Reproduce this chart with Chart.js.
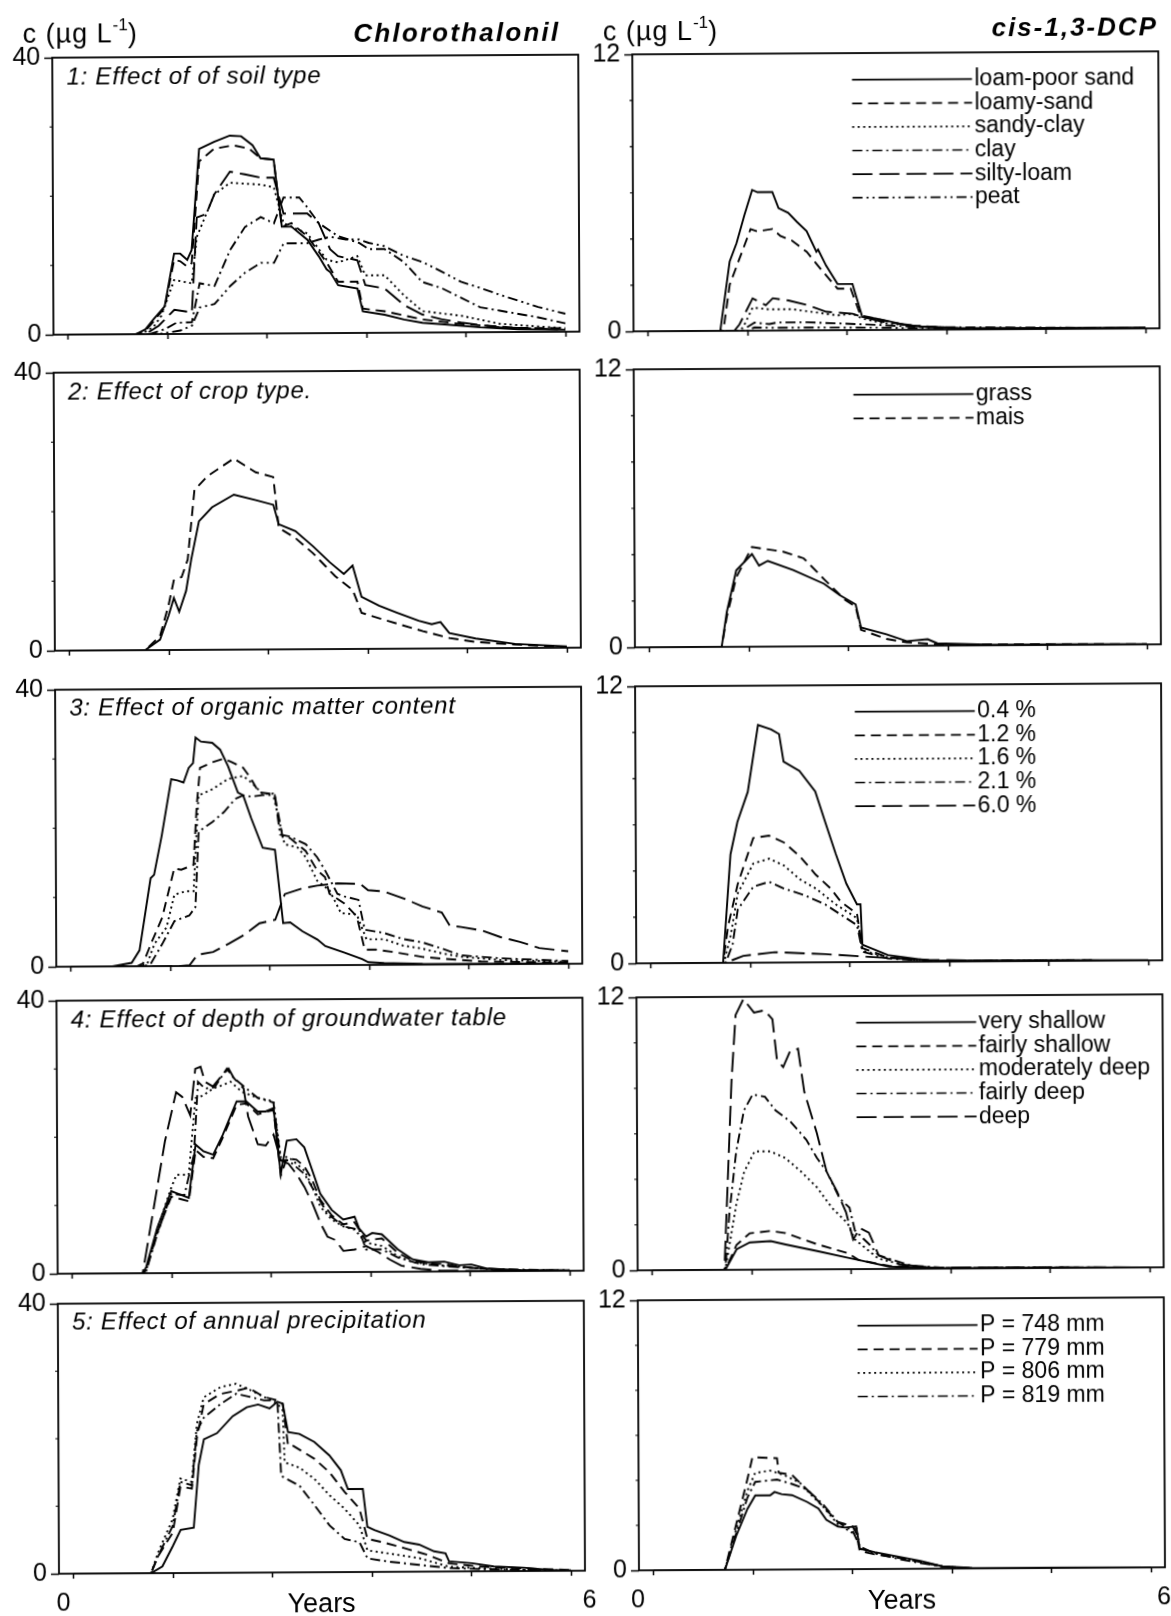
<!DOCTYPE html>
<html><head><meta charset="utf-8">
<script src="https://cdn.jsdelivr.net/npm/chart.js@4.4.1/dist/chart.umd.min.js"></script>
<style>
html,body{margin:0;padding:0;background:#fff;overflow:hidden;}
body{width:1171px;height:1616px;position:relative;}
#page{position:absolute;left:0;top:0;width:1171px;height:1616px;transform-origin:0 0;transform:matrix(1,-0.0058,0.0044,1,0,0);}
canvas{position:absolute;}
.txt{position:absolute;white-space:nowrap;line-height:1;color:#000;font-family:"Liberation Sans",Arial,Helvetica,sans-serif;}
</style></head><body><div id="page"></div>
<script>
// ---------- axes / categories ----------
const xTickYears = [0.171, 1.305, 2.439, 3.573, 4.707, 5.841];
const xAxisEnds = [0, 6];
const leftYMax = 40, rightYMax = 12;
const leftMinorTicks = [10, 20, 30];
const rightMinorTicks = [2, 4, 6, 8, 10];

const soilTypes = ['loam-poor sand','loamy-sand','sandy-clay','clay','silty-loam','peat'];
const cropTypes = ['grass','mais'];
const omContents = ['0.4 %','1.2 %','1.6 %','2.1 %','6.0 %'];
const gwDepths = ['very shallow','fairly shallow','moderately deep','fairly deep','deep'];
const precipitations = ['P = 748 mm','P = 779 mm','P = 806 mm','P = 819 mm'];

// ---------- 1: soil type, Chlorothalonil [year, ug/L] ----------
const c1_loamPoorSand = [[0.17,0],[0.94,0],[1.05,0.7],[1.14,2.1],[1.27,4.0],[1.38,11.6],[1.45,11.6],[1.53,10.7],[1.58,12.1],[1.67,26.7],[1.84,27.7],[2.02,28.6],[2.15,28.5],[2.28,27.2],[2.37,25.3],[2.52,25.1],[2.61,15.4],[2.72,15.4],[2.90,13.5],[3.03,11.1],[3.12,9.2],[3.16,8.8],[3.25,6.9],[3.47,6.4],[3.53,3.1],[3.78,2.6],[4.0,1.9],[4.21,1.4],[4.43,1.2],[4.87,0.7],[5.3,0.4],[5.84,0.3]];
const c1_loamySand = [[0.17,0],[0.94,0],[1.05,0.5],[1.14,1.8],[1.27,3.8],[1.38,10.7],[1.45,10.5],[1.53,9.7],[1.58,10.2],[1.67,24.9],[1.84,26.7],[2.06,27.2],[2.24,26.7],[2.37,25.3],[2.52,25.1],[2.61,15.4],[2.72,15.9],[2.90,14.0],[3.12,10.2],[3.25,7.4],[3.47,7.4],[3.53,3.5],[3.78,3.1],[4.21,1.9],[4.65,1.2],[5.3,0.6],[5.84,0.5]];
const c1_sandyClay = [[0.17,0],[1.0,0],[1.14,1.0],[1.23,2.6],[1.38,7.8],[1.58,7.3],[1.64,14.0],[1.84,20.1],[2.02,21.8],[2.37,21.5],[2.52,21.1],[2.63,15.9],[2.90,14.4],[3.12,10.6],[3.25,10.2],[3.47,11.1],[3.56,8.3],[3.78,8.3],[4.0,5.4],[4.21,3.1],[4.65,2.4],[5.09,1.2],[5.84,0.5]];
const c1_clay = [[0.17,0],[1.1,0],[1.27,0.7],[1.40,1.6],[1.58,1.7],[1.67,7.3],[1.84,6.9],[2.02,12.1],[2.19,15.4],[2.37,16.8],[2.52,15.9],[2.63,19.6],[2.81,19.6],[2.90,18.2],[3.03,15.9],[3.25,14.0],[3.49,13.0],[3.60,12.1],[3.78,12.1],[4.0,10.2],[4.21,7.3],[4.43,6.4],[4.65,5.0],[4.87,3.6],[5.09,3.1],[5.53,2.1],[5.84,1.2]];
const c1_siltyLoam = [[0.17,0],[1.05,0],[1.20,1.2],[1.38,3.5],[1.58,3.1],[1.64,16.8],[1.75,17.3],[1.84,20.1],[2.02,23.4],[2.19,23.0],[2.37,22.5],[2.52,22.5],[2.63,17.3],[2.90,17.3],[3.03,15.9],[3.16,12.1],[3.25,11.1],[3.47,10.5],[3.56,6.9],[3.78,6.4],[4.0,4.0],[4.21,2.6],[4.43,1.9],[4.65,1.4],[5.09,0.7],[5.84,0.3]];
const c1_peat = [[0.17,0],[1.2,0],[1.45,0.5],[1.58,1.2],[1.67,3.8],[1.84,4.3],[2.02,6.9],[2.19,8.8],[2.37,10.2],[2.52,10.2],[2.63,13.0],[2.90,13.0],[3.03,13.5],[3.16,13.9],[3.34,13.5],[3.49,13.5],[3.60,13.0],[3.78,12.5],[4.0,11.1],[4.21,10.2],[4.43,8.8],[4.65,7.3],[4.87,6.4],[5.09,5.4],[5.31,4.5],[5.53,3.6],[5.84,2.6]];

// ---------- 1: soil type, cis-1,3-DCP ----------
const d1_loamPoorSand = [[0.17,0],[0.99,0],[1.10,3.0],[1.18,3.8],[1.27,5.0],[1.36,6.1],[1.42,6.0],[1.59,6.0],[1.66,5.3],[1.77,5.1],[1.87,4.7],[1.98,4.3],[2.09,3.4],[2.11,3.5],[2.20,2.8],[2.33,2.0],[2.50,2.0],[2.61,0.57],[2.76,0.5],[2.93,0.36],[3.10,0.21],[3.28,0.14],[3.71,0.07],[5.0,0.03],[5.84,0.02]];
const d1_loamySand = [[0.17,0],[0.99,0],[1.03,0.14],[1.10,2.0],[1.21,3.1],[1.34,4.4],[1.42,4.3],[1.59,4.4],[1.68,4.1],[1.81,3.9],[1.98,3.4],[2.15,2.6],[2.33,1.8],[2.48,1.8],[2.59,0.64],[2.84,0.43],[3.1,0.2],[3.7,0.05],[5.84,0.02]];
const d1_sandyClay = [[0.17,0],[1.2,0],[1.25,0.14],[1.36,1.0],[1.55,0.92],[1.81,0.92],[2.07,0.78],[2.33,0.64],[2.50,0.71],[2.61,0.5],[2.84,0.3],[3.28,0.14],[3.7,0.05],[5.84,0.02]];
const d1_clay = [[0.17,0],[1.25,0],[1.29,0.14],[1.38,0.35],[1.55,0.28],[1.64,0.35],[1.98,0.35],[2.41,0.28],[2.84,0.21],[3.28,0.11],[5.84,0.02]];
const d1_siltyLoam = [[0.17,0],[1.15,0],[1.21,0.28],[1.36,1.4],[1.51,1.1],[1.59,1.4],[1.77,1.3],[1.98,1.1],[2.20,0.8],[2.50,0.71],[2.61,0.57],[2.84,0.36],[3.28,0.14],[3.7,0.05],[5.84,0.02]];
const d1_peat = [[0.17,0],[1.3,0],[1.38,0.14],[1.6,0.12],[2.0,0.12],[2.84,0.1],[3.5,0.05],[5.84,0.02]];

// ---------- 2: crop type ----------
const c2_grass = [[0.17,0],[1.03,0],[1.2,1.5],[1.3,5],[1.36,7.5],[1.42,5.5],[1.5,8.5],[1.56,13],[1.65,18.5],[1.8,20.5],[2.05,22.3],[2.3,21.5],[2.5,20.8],[2.56,18],[2.75,17],[2.95,14.8],[3.14,12.5],[3.3,10.8],[3.4,12],[3.5,7.5],[3.7,6.2],[3.9,5.2],[4.15,4],[4.3,3.5],[4.4,3.8],[4.5,2.2],[4.8,1.4],[5.25,0.6],[5.84,0.2]];
const c2_mais = [[0.17,0],[1.03,0],[1.2,2],[1.3,6.5],[1.36,10],[1.45,10.5],[1.52,13],[1.6,23],[1.75,25],[2.05,27.5],[2.3,25.5],[2.5,24.8],[2.56,17.5],[2.75,16],[2.95,13.8],[3.2,10.5],[3.4,8.5],[3.5,5.2],[3.8,4],[4.2,2.5],[4.5,1.5],[4.8,0.9],[5.25,0.5],[5.84,0.1]];
const d2_grass = [[0.17,0],[0.99,0],[1.05,1.5],[1.16,3.3],[1.34,4.0],[1.42,3.5],[1.52,3.7],[1.81,3.3],[2.16,2.7],[2.34,2.2],[2.52,1.8],[2.58,0.8],[2.87,0.5],[3.1,0.2],[3.34,0.28],[3.45,0.1],[4.0,0.03],[5.84,0.01]];
const d2_mais = [[0.17,0],[0.99,0],[1.05,1.3],[1.16,3.0],[1.34,4.3],[1.69,4.1],[1.93,3.8],[2.16,2.9],[2.40,2.0],[2.52,1.7],[2.58,0.7],[2.87,0.3],[3.1,0.15],[3.5,0.05],[5.84,0.01]];

// ---------- 3: organic matter content ----------
const c3_om04 = [[0.17,0],[0.64,0],[0.86,0.5],[0.95,2.3],[1.08,12.7],[1.12,13.2],[1.21,18.9],[1.32,27],[1.39,26.8],[1.46,26.5],[1.52,28.6],[1.57,29.3],[1.60,33],[1.66,32.4],[1.79,32.2],[1.88,31.2],[1.97,28.8],[2.08,25],[2.14,24.6],[2.23,21.3],[2.36,17],[2.50,16.7],[2.59,6.1],[2.67,6.2],[2.81,4.9],[2.98,3.7],[3.07,2.75],[3.29,1.8],[3.49,0.85],[3.56,0.4],[3.74,0.25],[4.18,0.1],[5.84,0.05]];
const c3_om12 = [[0.17,0],[0.92,0],[0.99,0.4],[1.08,3.2],[1.21,7],[1.35,14.1],[1.43,13.9],[1.57,14.6],[1.61,23.2],[1.65,28.6],[1.79,29.4],[1.92,29.9],[2.01,29.4],[2.14,28.6],[2.23,27],[2.32,25],[2.45,24.8],[2.50,24.6],[2.59,18.4],[2.67,18.4],[2.85,16.5],[2.98,13.7],[3.07,12.7],[3.12,10.3],[3.29,8.9],[3.43,7],[3.52,2.2],[3.65,2.2],[3.87,1.8],[4.18,1.1],[4.40,0.85],[4.85,0.4],[5.84,0.15]];
const c3_om16 = [[0.17,0],[0.97,0],[1.04,0.4],[1.12,3.2],[1.26,5.6],[1.35,10.3],[1.48,10.8],[1.57,10.8],[1.63,24.6],[1.79,25.5],[1.97,27],[2.14,27.4],[2.23,26.5],[2.36,24.8],[2.48,24.8],[2.61,17.5],[2.76,17],[2.85,15.6],[2.98,12.2],[3.12,10.8],[3.25,7.5],[3.43,7.3],[3.54,3.7],[3.74,3.7],[3.96,2.75],[4.18,2.3],[4.40,1.6],[4.62,1.1],[5.07,0.6],[5.84,0.3]];
const c3_om21 = [[0.17,0],[1.0,0],[1.08,0.4],[1.21,3.2],[1.35,6.5],[1.52,7.3],[1.59,8.5],[1.63,19.4],[1.79,20.8],[1.92,22.2],[2.05,24.1],[2.14,24.6],[2.23,24.4],[2.36,24.6],[2.50,24.6],[2.56,18.9],[2.67,18.6],[2.85,17.5],[2.98,15.6],[3.07,13.7],[3.21,10.3],[3.29,9.9],[3.45,9.4],[3.52,5.1],[3.74,4.6],[3.96,3.7],[4.18,3.2],[4.40,2.3],[4.62,1.3],[5.07,0.85],[5.84,0.4]];
const c3_om60 = [[0.17,0],[1.42,0],[1.52,0.1],[1.61,1.6],[1.79,2.0],[1.97,3.2],[2.14,4.4],[2.32,6.1],[2.50,6.6],[2.61,10.3],[2.81,11.1],[2.98,11.5],[3.21,11.8],[3.47,11.7],[3.56,10.8],[3.74,10.6],[3.96,9.6],[4.18,8.4],[4.40,7.5],[4.49,5.6],[4.62,5.4],[4.85,4.9],[5.07,3.9],[5.29,3.2],[5.51,2.3],[5.84,1.8]];
const d3_om04 = [[0.17,0],[0.99,0],[1.08,4.7],[1.16,6.1],[1.28,7.4],[1.40,10.3],[1.55,10.1],[1.64,9.9],[1.69,8.7],[1.87,8.3],[2.05,7.4],[2.16,6.1],[2.28,4.7],[2.40,3.4],[2.52,2.5],[2.56,2.5],[2.58,0.75],[2.87,0.3],[3.34,0.05],[5.84,0.01]];
const d3_om12 = [[0.17,0],[0.99,0],[1.05,1.6],[1.16,3.4],[1.34,5.4],[1.52,5.5],[1.69,5.2],[1.87,4.6],[2.05,3.8],[2.22,3.2],[2.34,2.6],[2.52,2.1],[2.58,0.6],[2.87,0.2],[3.34,0.03],[5.84,0]];
const d3_om16 = [[0.17,0],[1.0,0],[1.08,1.2],[1.16,3.0],[1.34,4.3],[1.52,4.5],[1.69,4.2],[1.87,3.6],[2.05,3.2],[2.28,2.5],[2.52,1.9],[2.58,0.5],[2.87,0.2],[3.34,0.03],[5.84,0]];
const d3_om21 = [[0.17,0],[1.02,0],[1.10,0.8],[1.16,2.3],[1.34,3.3],[1.52,3.5],[1.69,3.2],[1.93,2.9],[2.16,2.5],[2.52,1.6],[2.58,0.45],[2.87,0.15],[3.34,0.03],[5.84,0]];
const d3_om60 = [[0.17,0],[1.0,0],[1.05,0.05],[1.22,0.3],[1.58,0.45],[2.16,0.35],[2.75,0.2],[3.34,0.08],[4.0,0.02],[5.84,0]];

// ---------- 4: depth of groundwater table ----------
const c4_veryShallow = [[0.17,0],[0.97,0],[1.01,0.9],[1.14,6.7],[1.30,12],[1.36,11.7],[1.50,11],[1.58,18.8],[1.67,17.8],[1.78,17.3],[1.89,20.2],[2.05,25.1],[2.16,25.1],[2.29,23.6],[2.38,23.6],[2.47,24.1],[2.55,14.4],[2.62,19.3],[2.73,19.5],[2.82,18.3],[2.91,14.9],[3.00,11.5],[3.13,9.1],[3.26,7.7],[3.39,8.1],[3.44,6.4],[3.52,5.2],[3.59,5.7],[3.70,5.5],[3.88,3.3],[4.05,1.8],[4.23,1.35],[4.41,1.45],[4.58,0.9],[4.72,1.0],[4.89,0.4],[5.25,0.15],[5.84,0.05]];
const c4_fairlyShallow = [[0.17,0],[0.97,0],[1.01,0.5],[1.14,6],[1.30,11.2],[1.36,11],[1.50,10.5],[1.58,18],[1.67,17],[1.78,16.8],[1.89,19.8],[2.05,24.6],[2.16,24.8],[2.29,23.2],[2.47,23.8],[2.55,14.2],[2.62,16.7],[2.73,16.5],[2.82,15.5],[2.91,13.5],[3.00,10.6],[3.13,8.3],[3.26,7],[3.39,7.3],[3.52,4.6],[3.70,4.9],[3.88,2.8],[4.05,1.6],[4.23,1.2],[4.41,1.1],[4.58,0.7],[4.89,0.35],[5.25,0.1],[5.84,0.05]];
const c4_moderatelyDeep = [[0.17,0],[0.97,0],[1.01,0.4],[1.14,6.5],[1.30,12.5],[1.36,14.4],[1.50,14.4],[1.58,25.6],[1.67,26],[1.78,27],[1.89,27.5],[1.98,28],[2.11,26.5],[2.29,25.6],[2.47,25.1],[2.55,16.9],[2.64,16.9],[2.82,14.9],[2.91,12.5],[3.00,9.6],[3.13,7.7],[3.26,6.7],[3.39,6.2],[3.52,4.3],[3.70,3.8],[3.88,2.3],[4.05,1.4],[4.36,0.9],[4.67,0.6],[5.02,0.15],[5.84,0.05]];
const c4_fairlyDeep = [[0.17,0],[0.97,0],[1.01,0.3],[1.14,5.8],[1.30,11.6],[1.45,11.4],[1.56,17.3],[1.61,28],[1.69,27],[1.80,27.2],[1.94,29.9],[2.02,28.5],[2.16,27],[2.29,25.6],[2.47,24.9],[2.55,16.4],[2.64,16.4],[2.82,14.4],[2.95,11.5],[3.08,8.6],[3.26,6.7],[3.44,6.2],[3.52,3.3],[3.70,3.3],[3.88,2.1],[4.14,1.1],[4.58,0.6],[5.02,0.3],[5.84,0.05]];
const c4_deep = [[0.17,0],[0.97,0],[1.10,9.6],[1.23,19.3],[1.36,26.5],[1.43,25.8],[1.52,23.1],[1.58,29.9],[1.64,30.2],[1.69,28],[1.78,27.3],[1.89,29],[1.96,29.9],[2.02,28.5],[2.13,27],[2.18,22.9],[2.29,18.8],[2.38,18.6],[2.47,20.2],[2.55,16.4],[2.64,15.9],[2.73,14.4],[2.82,12.5],[2.91,10.1],[3.00,7.2],[3.08,5.2],[3.17,4.7],[3.26,3.1],[3.39,3.3],[3.52,3.8],[3.66,2.9],[3.79,1.8],[3.92,0.9],[4.14,0.4],[4.36,0.15],[4.80,0.05],[5.84,0.02]];
const d4_veryShallow = [[0.17,0],[1.0,0],[1.13,0.9],[1.28,1.2],[1.52,1.25],[1.69,1.1],[2.05,0.8],[2.40,0.5],[2.52,0.4],[2.87,0.1],[3.5,0.02],[5.84,0]];
const d4_fairlyShallow = [[0.17,0],[1.0,0],[1.13,1.1],[1.28,1.6],[1.52,1.7],[1.69,1.6],[2.05,1.1],[2.40,0.7],[2.52,0.4],[2.87,0.13],[3.5,0.02],[5.84,0]];
const d4_moderatelyDeep = [[0.17,0],[1.0,0],[1.13,2.9],[1.22,4.3],[1.34,5.2],[1.52,5.2],[1.69,4.9],[1.87,4.3],[2.05,3.6],[2.22,2.7],[2.40,2.0],[2.48,1.3],[2.64,0.8],[2.75,0.45],[3.11,0.1],[3.5,0.02],[5.84,0]];
const d4_fairlyDeep = [[0.17,0],[1.0,0],[1.05,2.5],[1.13,5.2],[1.22,7.0],[1.32,7.7],[1.46,7.6],[1.58,7.0],[1.75,6.5],[1.93,5.7],[2.05,4.9],[2.16,4.3],[2.31,3.1],[2.42,2.7],[2.48,1.7],[2.64,1.1],[2.75,0.6],[3.11,0.15],[3.5,0.03],[5.84,0]];
const d4_deep = [[0.17,0],[0.99,0],[1.08,8.3],[1.13,11.2],[1.22,11.9],[1.34,11.3],[1.46,11.4],[1.55,11.0],[1.60,9.2],[1.67,8.9],[1.75,9.6],[1.84,9.7],[1.91,7.8],[2.05,6.0],[2.16,4.3],[2.28,3.4],[2.38,2.5],[2.46,1.3],[2.54,1.8],[2.64,1.6],[2.75,0.6],[2.99,0.2],[3.34,0.05],[5.84,0]];

// ---------- 5: annual precipitation ----------
const c5_p748 = [[0.17,0],[1.05,0],[1.18,1],[1.30,4],[1.39,6.4],[1.54,6.7],[1.60,16],[1.66,19.8],[1.81,20.7],[1.99,23.2],[2.15,24.5],[2.28,24.9],[2.41,24.3],[2.50,25.3],[2.56,25.0],[2.62,20.8],[2.75,20.5],[2.92,19.3],[3.09,17.3],[3.22,15.1],[3.30,12.3],[3.47,12.3],[3.52,6.7],[3.60,6.2],[3.77,5.4],[3.94,4.4],[4.11,4.0],[4.28,3.0],[4.41,2.7],[4.45,1.5],[4.71,1.2],[4.96,0.7],[5.3,0.5],[5.65,0.1],[5.84,0.05]];
const c5_p779 = [[0.17,0],[1.05,0],[1.13,2.5],[1.30,6],[1.39,12.8],[1.52,12.5],[1.58,20],[1.66,25],[1.85,26.5],[2.05,27],[2.17,27.4],[2.35,26],[2.50,25.5],[2.56,25],[2.62,18.8],[2.67,18.8],[2.92,16.8],[3.09,14.8],[3.26,11.9],[3.43,9.4],[3.52,4.9],[3.69,4.4],[3.94,3.5],[4.2,2.5],[4.45,1.2],[4.79,0.7],[5.3,0.4],[5.84,0.1]];
const c5_p806 = [[0.17,0],[1.05,0],[1.13,3],[1.30,8],[1.39,14],[1.52,13.5],[1.58,22],[1.66,26],[1.85,27.5],[2.03,28],[2.2,27],[2.35,26],[2.5,25],[2.56,24],[2.58,16.3],[2.75,15.5],[2.92,13.8],[3.09,11.4],[3.26,9.4],[3.43,6.9],[3.52,3.2],[3.77,2.7],[4.11,2.0],[4.45,0.7],[4.88,0.4],[5.5,0.1],[5.84,0.05]];
const c5_p819 = [[0.17,0],[1.05,0],[1.13,2.5],[1.30,7],[1.39,13.5],[1.52,13],[1.58,21],[1.66,23],[1.85,25],[2.03,26.5],[2.2,26],[2.35,25.5],[2.5,25.5],[2.54,14.3],[2.75,12.8],[2.92,9.9],[3.09,6.9],[3.26,4.9],[3.43,4.4],[3.52,2.0],[3.77,1.5],[4.11,1.0],[4.45,0.5],[4.88,0.3],[5.5,0.1],[5.84,0.05]];
const d5_p748 = [[0.17,0],[0.98,0],[1.11,1.5],[1.24,2.7],[1.33,3.3],[1.50,3.3],[1.55,3.45],[1.63,3.35],[1.75,3.3],[1.92,3.0],[2.05,2.7],[2.14,2.2],[2.27,1.9],[2.35,1.85],[2.48,1.9],[2.52,0.9],[2.69,0.75],[2.95,0.55],[3.21,0.35],[3.46,0.1],[3.8,0.03],[5.84,0]];
const d5_p779 = [[0.17,0],[0.98,0],[1.11,2],[1.24,4],[1.30,5.0],[1.58,4.95],[1.60,4.3],[1.75,4.2],[1.88,3.7],[2.01,3.2],[2.10,2.8],[2.27,2.1],[2.44,1.9],[2.48,1.6],[2.52,0.8],[2.69,0.65],[2.95,0.5],[3.21,0.3],[3.46,0.1],[3.8,0],[5.84,0]];
const d5_p806 = [[0.17,0],[0.98,0],[1.11,1.8],[1.24,3.5],[1.33,4.3],[1.50,4.4],[1.66,4.2],[1.84,3.85],[1.97,3.3],[2.10,2.8],[2.27,2.0],[2.44,1.6],[2.48,1.9],[2.52,0.9],[2.69,0.7],[2.95,0.5],[3.21,0.3],[3.46,0.1],[3.8,0],[5.84,0]];
const d5_p819 = [[0.17,0],[0.98,0],[1.11,1.6],[1.24,3.2],[1.33,3.9],[1.58,4.0],[1.75,3.8],[1.92,3.55],[2.10,2.9],[2.27,2.1],[2.44,1.7],[2.52,1.0],[2.69,0.7],[2.95,0.45],[3.21,0.25],[3.46,0.1],[3.8,0],[5.84,0]];

// ---------- styles & layout ----------
const dashStyles = [[], [10,6], [2,3.5], [10,4,2,4], [20,7], [10,4,2,4,2,4]];
const rowTops = [58.2, 373.0, 689.6, 1001.3, 1303.6];
const rowBottoms = [338.6, 653.6, 969.6, 1277.0, 1574.0];
const colLefts = [51.7, 631.8];
const colRights = [577.5, 1158.0];
const FONT = '"Liberation Sans", Arial, Helvetica, sans-serif';

const panelDefs = [
  {row:0, col:0, title:'1: Effect of of soil type', labels:soilTypes, series:[c1_loamPoorSand,c1_loamySand,c1_sandyClay,c1_clay,c1_siltyLoam,c1_peat]},
  {row:0, col:1, labels:soilTypes, series:[d1_loamPoorSand,d1_loamySand,d1_sandyClay,d1_clay,d1_siltyLoam,d1_peat]},
  {row:1, col:0, title:'2: Effect of crop type.', labels:cropTypes, series:[c2_grass,c2_mais]},
  {row:1, col:1, labels:cropTypes, series:[d2_grass,d2_mais]},
  {row:2, col:0, title:'3: Effect of organic matter content', labels:omContents, series:[c3_om04,c3_om12,c3_om16,c3_om21,c3_om60]},
  {row:2, col:1, labels:omContents, series:[d3_om04,d3_om12,d3_om16,d3_om21,d3_om60]},
  {row:3, col:0, title:'4: Effect of depth of groundwater table', labels:gwDepths, series:[c4_veryShallow,c4_fairlyShallow,c4_moderatelyDeep,c4_fairlyDeep,c4_deep]},
  {row:3, col:1, labels:gwDepths, series:[d4_veryShallow,d4_fairlyShallow,d4_moderatelyDeep,d4_fairlyDeep,d4_deep]},
  {row:4, col:0, title:'5: Effect of annual precipitation', labels:precipitations, series:[c5_p748,c5_p779,c5_p806,c5_p819]},
  {row:4, col:1, labels:precipitations, series:[d5_p748,d5_p779,d5_p806,d5_p819]}
];

Chart.defaults.font.family = FONT;
Chart.defaults.color = '#000';

const page = document.getElementById('page');

function addText(html, x, baseline, size, o) {
  o = o || {};
  const d = document.createElement('div');
  d.className = 'txt';
  d.innerHTML = html;
  d.style.fontSize = size + 'px';
  if (o.italic) d.style.fontStyle = 'italic';
  if (o.bold) d.style.fontWeight = 'bold';
  if (o.ls) d.style.letterSpacing = o.ls + 'px';
  d.style.top = (baseline - 0.8465 * size) + 'px';
  if (o.align === 'right') d.style.right = (1171 - x) + 'px';
  else if (o.align === 'center') { d.style.left = x + 'px'; d.style.transform = 'translateX(-50%)'; }
  else d.style.left = x + 'px';
  page.appendChild(d);
}

const framePlugin = {
  id: 'frameExtras',
  afterDatasetsDraw(chart, args, opts) {
    const ctx = chart.ctx, a = chart.chartArea, ys = chart.scales.y;
    ctx.save();
    ctx.strokeStyle = '#000';
    ctx.setLineDash([]);
    ctx.lineWidth = 1.8;
    ctx.strokeRect(a.left, a.top, a.right - a.left, a.bottom - a.top);
    ctx.lineWidth = 1.2;
    ctx.beginPath();
    (opts.minorTicks || []).forEach(v => {
      const y = ys.getPixelForValue(v);
      ctx.moveTo(a.left - 3, y); ctx.lineTo(a.left, y);
    });
    ctx.stroke();
    if (opts.legend) {
      ctx.font = '23px ' + FONT;
      ctx.fillStyle = '#000';
      ctx.textAlign = 'left';
      ctx.textBaseline = 'alphabetic';
      chart.data.datasets.forEach((ds, i) => {
        const y = a.top + 26.7 + 23.6 * i;
        ctx.setLineDash(ds.borderDash || []);
        ctx.lineWidth = 1.7;
        ctx.beginPath();
        ctx.moveTo(a.left + 219.6, y); ctx.lineTo(a.left + 339.6, y);
        ctx.stroke();
        ctx.setLineDash([]);
        ctx.fillText(ds.label, a.left + 342, y + 6.5);
      });
    }
    ctx.restore();
  }
};

panelDefs.forEach(p => {
  const T = rowTops[p.row], B = rowBottoms[p.row], L = colLefts[p.col], R = colRights[p.col];
  const isBottom = p.row === 4;
  const padL = 50, padT = 20, padR = 20, padB = isBottom ? 60 : 16;
  const fw = Math.round(R - L), fh = Math.round(B - T);
  const cv = document.createElement('canvas');
  cv.width = fw + padL + padR; cv.height = fh + padT + padB;
  cv.style.left = (L - padL) + 'px'; cv.style.top = (T - padT) + 'px';
  cv.style.width = cv.width + 'px'; cv.style.height = cv.height + 'px';
  page.appendChild(cv);
  const yMax = p.col === 0 ? leftYMax : rightYMax;
  const xTicks = [xAxisEnds[0]].concat(xTickYears, [xAxisEnds[1]]);
  new Chart(cv, {
    type: 'line',
    data: {
      datasets: p.series.map((s, i) => ({
        label: p.labels[i],
        data: s.map(pt => ({x: pt[0], y: pt[1]})),
        borderColor: '#000', borderWidth: 1.9, borderDash: dashStyles[i],
        pointRadius: 0, fill: false, tension: 0
      }))
    },
    options: {
      responsive: false, maintainAspectRatio: false, animation: false, devicePixelRatio: 1, events: [],
      layout: {padding: {top: padT, right: padR, left: 0, bottom: 0}},
      plugins: {
        legend: {display: false}, tooltip: {enabled: false}, title: {display: false},
        frameExtras: {minorTicks: p.col === 0 ? leftMinorTicks : rightMinorTicks, legend: p.col === 1}
      },
      scales: {
        x: {
          type: 'linear', min: xAxisEnds[0], max: xAxisEnds[1], position: 'bottom',
          afterBuildTicks: s => { s.ticks = xTicks.map(v => ({value: v})); },
          afterFit: s => { s.height = padB; },
          ticks: {autoSkip: false, maxRotation: 0, minRotation: 0, padding: 10,
            labelOffset: p.col === 0 ? 4.5 : -1,
            font: {size: 25}, color: '#000',
            callback: v => (isBottom && xAxisEnds.includes(v)) ? String(v) : ''},
          grid: {drawOnChartArea: false, drawTicks: true, tickLength: 5, tickWidth: 1.5,
            tickColor: c => (c.tick && xAxisEnds.includes(c.tick.value)) ? 'rgba(0,0,0,0)' : '#000'},
          border: {display: false}
        },
        y: {
          type: 'linear', min: 0, max: yMax,
          afterBuildTicks: s => { s.ticks = [0, yMax].map(v => ({value: v})); },
          afterFit: s => { s.width = padL; },
          ticks: {padding: 4, font: {size: 25}, color: '#000'},
          grid: {drawOnChartArea: false, drawTicks: true, tickLength: 8, tickWidth: 1.5, tickColor: '#000'},
          border: {display: false}
        }
      }
    },
    plugins: [framePlugin]
  });
  if (p.title) addText(p.title, L + 14.5, T + 27, 24, {italic: true, ls: 0.75});
  if (isBottom) addText('Years', (L + R) / 2, B + 41, 27, {align: 'center'});
});

// headers
const unitHtml = 'c (µg L<span style="font-size:17px;position:relative;top:-12px;letter-spacing:0">-1</span>)';
addText(unitHtml, 22.5, 43.8, 27, {ls: 1});
addText(unitHtml, 602.8, 44.5, 27, {ls: 1});
addText('Chlorothalonil', 353.2, 44.3, 26, {bold: true, italic: true, ls: 2.2});
addText('cis-1,3-DCP', 1157.9, 42, 26, {bold: true, italic: true, ls: 2, align: 'right'});
</script>
</body></html>
